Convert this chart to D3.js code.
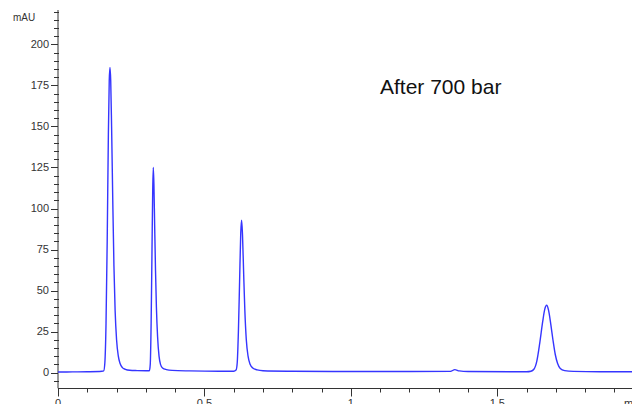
<!DOCTYPE html>
<html>
<head>
<meta charset="utf-8">
<script src="https://cdn.jsdelivr.net/npm/d3@7"></script>
<style>
  body { margin: 0; background: #fff; }
  svg { display: block; font-family: "Liberation Sans", Arial, sans-serif; }
</style>
</head>
<body>
<div id="chart"></div>
<script>
// chromatogram trace (time in min, signal in mAU)
var times = [0, 0.05, 0.10, 0.15, 0.156, 0.160, 0.164, 0.168, 0.172, 0.175, 0.1775, 0.180, 0.183, 0.187, 0.191, 0.195, 0.200, 0.206, 0.212, 0.220, 0.230, 0.245, 0.270, 0.300,
  0.312, 0.315, 0.318, 0.321, 0.3235, 0.3254, 0.3275, 0.330, 0.333, 0.336, 0.340, 0.345, 0.350, 0.357, 0.370, 0.390, 0.450, 0.550,
  0.600, 0.608, 0.612, 0.616, 0.620, 0.624, 0.627, 0.630, 0.634, 0.638, 0.643, 0.649, 0.656, 0.665, 0.680, 0.700, 0.800, 1.000, 1.200,
  1.340, 1.355, 1.370, 1.400, 1.550,
  1.600, 1.615, 1.625, 1.635, 1.645, 1.655, 1.662, 1.6685, 1.675, 1.683, 1.690, 1.698, 1.706, 1.715, 1.730, 1.760, 1.850, 1.960];
var mAU = [0.3, 0.4, 0.5, 0.8, 1, 6, 30, 80, 145, 178, 186, 178, 150, 105, 65, 38, 20, 10, 5.5, 3, 2, 1.4, 1.2, 1.1,
  1.1, 5, 30, 75, 112, 125, 115, 90, 62, 40, 22, 10, 5, 2.8, 1.8, 1.3, 1.0, 0.8,
  0.8, 1.5, 6, 25, 55, 85, 92.8, 84, 60, 38, 20, 10, 5, 2.8, 1.6, 1.1, 0.8, 0.6, 0.6,
  0.7, 1.8, 1.0, 0.6, 0.5,
  0.5, 0.8, 2, 7, 18, 31, 38.5, 41, 38, 29, 20, 11, 5.5, 2.5, 1.2, 0.7, 0.5, 0.5];

var yMajor = [0, 25, 50, 75, 100, 125, 150, 175, 200];
var xMajor = [0, 0.5, 1, 1.5];

var width = 632, height = 404;

var svg = d3.select('#chart').append('svg')
    .attr('width', width)
    .attr('height', height);

var x = d3.scaleLinear().domain([0, 1.96]).range([58, 632]);
var y = d3.scaleLinear().domain([-9.6, 221]).range([388.3, 10]);

var axisColor = '#333';

// y axis
var yAxis = svg.append('g').attr('transform', 'translate(58,0)');
yAxis.append('line')
    .attr('x1', 0).attr('x2', 0)
    .attr('y1', y(221)).attr('y2', y(-9.6))
    .attr('stroke', axisColor);
yAxis.selectAll('line.minor')
    .data(d3.range(-5, 221, 5).filter(d => d % 25 !== 0))
    .enter().append('line')
    .attr('class', 'minor')
    .attr('x1', -4).attr('x2', 1)
    .attr('y1', d => Math.round(y(d)) + 0.5).attr('y2', d => Math.round(y(d)) + 0.5)
    .attr('stroke', axisColor);
yAxis.selectAll('line.major')
    .data(yMajor)
    .enter().append('line')
    .attr('class', 'major')
    .attr('x1', -7).attr('x2', 0)
    .attr('y1', d => Math.round(y(d)) + 0.5).attr('y2', d => Math.round(y(d)) + 0.5)
    .attr('stroke', axisColor);
yAxis.selectAll('text')
    .data(yMajor)
    .enter().append('text')
    .attr('x', -9)
    .attr('y', d => y(d))
    .attr('dy', '0.35em')
    .attr('text-anchor', 'end')
    .attr('font-size', 11)
    .attr('fill', axisColor)
    .text(d => d);

svg.append('text')
    .attr('x', 13)
    .attr('y', 21)
    .attr('font-size', 10)
    .attr('fill', axisColor)
    .text('mAU');

// x axis (tick labels run off the bottom edge, as in the original)
var xAxis = svg.append('g').attr('transform', 'translate(0,' + (Math.round(y(-9.6)) + 0.5) + ')');
xAxis.append('line')
    .attr('x1', 58).attr('x2', 632)
    .attr('y1', 0).attr('y2', 0)
    .attr('stroke', axisColor);
xAxis.selectAll('line.minor')
    .data(d3.range(1, 20).map(d => d / 10).filter(d => Math.round(d * 10) % 5 !== 0))
    .enter().append('line')
    .attr('x1', d => Math.round(x(d)) + 0.5).attr('x2', d => Math.round(x(d)) + 0.5)
    .attr('y1', 0).attr('y2', 4)
    .attr('stroke', axisColor);
xAxis.selectAll('line.major')
    .data(xMajor)
    .enter().append('line')
    .attr('x1', d => Math.round(x(d)) + 0.5).attr('x2', d => Math.round(x(d)) + 0.5)
    .attr('y1', 0).attr('y2', 8)
    .attr('stroke', axisColor);
xAxis.selectAll('text')
    .data(xMajor)
    .enter().append('text')
    .attr('x', d => x(d))
    .attr('y', 18)
    .attr('text-anchor', 'middle')
    .attr('font-size', 11)
    .attr('fill', axisColor)
    .text(d => d);
xAxis.append('text')
    .attr('x', 624)
    .attr('y', 18)
    .attr('font-size', 11)
    .attr('fill', axisColor)
    .text('min');

// trace
var points = times.map((t, i) => [t, mAU[i]]);
var line = d3.line()
    .x(d => x(d[0]))
    .y(d => y(d[1]))
    .curve(d3.curveMonotoneX);

svg.append('path')
    .datum(points)
    .attr('d', line)
    .attr('fill', 'none')
    .attr('stroke', '#3535ff')
    .attr('stroke-width', 1.4)
    .attr('stroke-linejoin', 'round');

svg.append('text')
    .attr('x', 380)
    .attr('y', 94)
    .attr('font-size', 21)
    .attr('fill', '#111')
    .text('After 700 bar');
</script>
</body>
</html>
